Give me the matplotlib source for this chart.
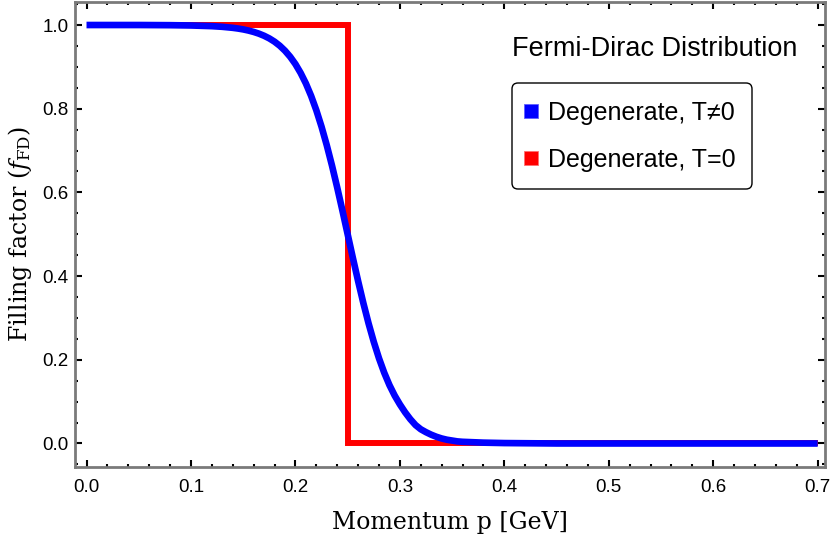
import matplotlib
matplotlib.use("Agg")
import matplotlib.pyplot as plt
from matplotlib.lines import Line2D
from matplotlib.patches import FancyBboxPatch
from matplotlib.ticker import MultipleLocator

# Fermi-Dirac curve (T != 0)
p_blue = [0.00, 0.05, 0.08, 0.10, 0.12, 0.13, 0.140, 0.145, 0.150, 0.155,
          0.160, 0.165, 0.170, 0.175, 0.180, 0.185, 0.190, 0.195, 0.200, 0.205,
          0.210, 0.215, 0.220, 0.225, 0.230, 0.235, 0.240, 0.245, 0.250, 0.255,
          0.260, 0.265, 0.270, 0.275, 0.280, 0.285, 0.290, 0.295, 0.300, 0.305,
          0.310, 0.315, 0.320, 0.325, 0.330, 0.335, 0.340, 0.345, 0.350, 0.355,
          0.360, 0.370, 0.380, 0.400, 0.450, 0.700]
f_blue = [1.000, 1.000, 0.9996, 0.9989, 0.9973, 0.9957, 0.9933, 0.9916, 0.9895, 0.9868,
          0.9835, 0.9794, 0.9743, 0.9680, 0.9602, 0.9505, 0.9386, 0.9241, 0.9066, 0.8854,
          0.8604, 0.8308, 0.7964, 0.7570, 0.7128, 0.6642, 0.6117, 0.5566, 0.5000, 0.4434,
          0.3883, 0.3358, 0.2872, 0.2430, 0.2036, 0.1692, 0.1396, 0.1146, 0.0934, 0.0745,
          0.0580, 0.0440, 0.0340, 0.0270, 0.0210, 0.0160, 0.0120, 0.0090, 0.0070, 0.0050,
          0.0040, 0.0030, 0.0020, 0.0010, 0.0000, 0.0000]

# step function (T = 0)
p_red = [0.00, 0.25, 0.25, 0.70]
f_red = [1.0, 1.0, 0.0, 0.0]

labels = ["Degenerate, T\u22600", "Degenerate, T=0"]
legend_title = "Fermi-Dirac Distribution"

SANS = ["Liberation Sans", "DejaVu Sans"]
SERIF = "DejaVu Serif"
FRAME_GRAY = "#7a7a7a"

plt.rcParams["mathtext.fontset"] = "dejavuserif"

W, H = 830, 541
fig = plt.figure(figsize=(W / 100, H / 100), dpi=100)
ax = fig.add_axes([74.5 / W, 1 - 466.5 / H, 750.5 / W, 464.5 / H])

ax.plot(p_red, f_red, color="red", lw=4.3, solid_joinstyle="miter",
        solid_capstyle="butt", zorder=2)
ax.plot(p_blue, f_blue, color="blue", lw=4.8, solid_capstyle="butt",
        solid_joinstyle="round", zorder=3)

ax.set_xlim(-0.0115, 0.707)
ax.set_ylim(-0.055, 1.055)

ax.xaxis.set_major_locator(MultipleLocator(0.1))
ax.xaxis.set_minor_locator(MultipleLocator(0.02))
ax.yaxis.set_major_locator(MultipleLocator(0.2))
ax.yaxis.set_minor_locator(MultipleLocator(0.05))
ax.xaxis.set_major_formatter(lambda v, pos: f"{v:.1f}")
ax.yaxis.set_major_formatter(lambda v, pos: f"{v:.1f}")

ax.tick_params(which="both", direction="in", top=True, right=True,
               color="black", width=1.5)
ax.tick_params(which="major", length=5)
ax.tick_params(which="minor", length=2.5)
ax.tick_params(axis="x", pad=9)
ax.tick_params(axis="y", pad=4.5)
for lab in ax.get_xticklabels() + ax.get_yticklabels():
    lab.set_family(SANS)
    lab.set_fontsize(13.5)

for sp in ax.spines.values():
    sp.set_color(FRAME_GRAY)
    sp.set_linewidth(2.0)

ax.set_xlabel("Momentum p [GeV]", family=SERIF, fontsize=17, labelpad=11)
ax.set_ylabel(r"Filling factor ($f_{\mathrm{FD}}$)", family=SERIF,
              fontsize=17, labelpad=6)

# legend: entries without frame, rounded box drawn in pixel coords under them
handles = [
    Line2D([], [], ls="none", marker="s", ms=10, mfc="blue", mec="#6060ff", mew=0.6),
    Line2D([], [], ls="none", marker="s", ms=10, mfc="red", mec="#ff7070", mew=0.6),
]
leg = ax.legend(handles, labels, loc="center left",
                bbox_to_anchor=(522 / W, 1 - 136.5 / H), bbox_transform=fig.transFigure,
                borderaxespad=0, borderpad=0, handlelength=0.7,
                handletextpad=0.32, labelspacing=0.92, frameon=False,
                prop={"family": SANS, "size": 18})
leg.set_zorder(6)

box = FancyBboxPatch((512, H - 189), 240, 106, boxstyle="round,pad=0,rounding_size=6",
                     transform=None, facecolor="white", edgecolor="black",
                     linewidth=1.0, zorder=5, clip_on=False)
ax.add_artist(box)

fig.text(655 / W, 1 - 49 / H, legend_title, ha="center", va="center",
         family=SANS, fontsize=19.5)

fig.savefig("out.png", dpi=100)
